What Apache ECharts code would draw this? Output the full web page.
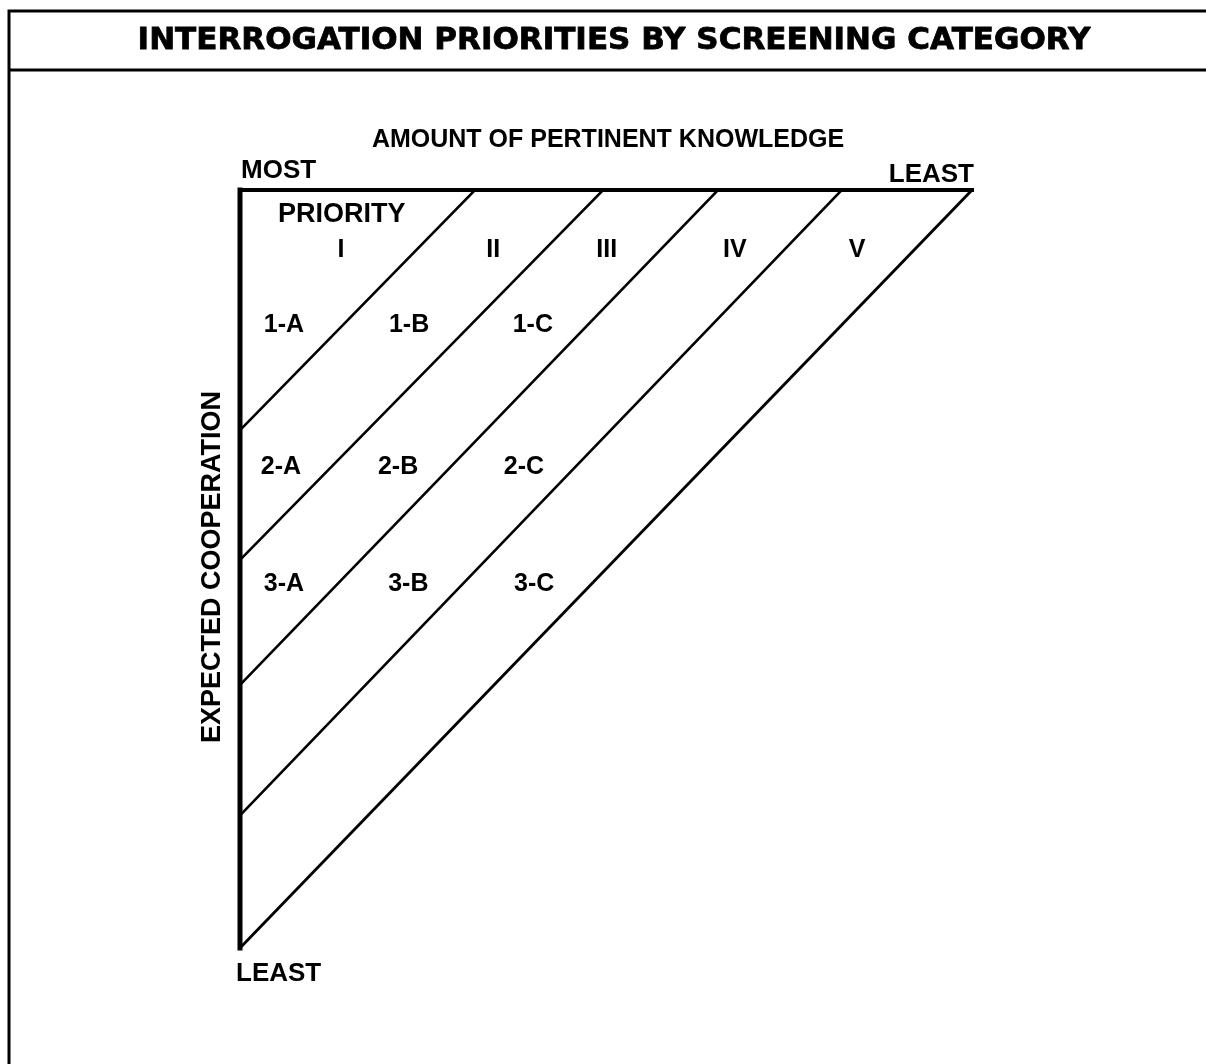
<!DOCTYPE html>
<html>
<head>
<meta charset="utf-8">
<script src="https://cdn.jsdelivr.net/npm/echarts@6/dist/echarts.min.js"></script>
<style>
html,body{margin:0;padding:0;background:#fff;}
#chart{width:1206px;height:1064px;}
</style>
</head>
<body>
<div id="chart"></div>
<script>
// ---- data ----
const titleText = 'INTERROGATION PRIORITIES BY SCREENING CATEGORY';
const xAxisTitle = 'AMOUNT OF PERTINENT KNOWLEDGE';
const yAxisTitle = 'EXPECTED COOPERATION';
const xEndLabels = ['MOST', 'LEAST'];
const yEndLabel = 'LEAST';
// diagonal band boundaries: where each boundary meets the top edge (x) and the left edge (y)
const bandTopX = [32.1, 49.6, 65.3, 82.2];
const bandLeftY = [31.7, 48.8, 65.3, 82.5];
// triangle outline
const outlineTop = [[0, 0], [100, 0]];
const outlineLeft = [[0, 0], [0, 100]];
const outlineHyp = [[100, 0], [0, 100]];
// priority labels
const priorityNames = ['I', 'II', 'III', 'IV', 'V'];
const priorityX = [13.8, 34.6, 50.1, 67.6, 84.3];
const priorityY = 7.9;
const priorityHeader = { name: 'PRIORITY', x: 13.9, y: 3.3 };
// category cells
const cellNames = ['1-A', '1-B', '1-C', '2-A', '2-B', '2-C', '3-A', '3-B', '3-C'];
const cellX = [6.0, 23.1, 40.0, 5.6, 21.6, 38.8, 6.0, 23.0, 40.2];
const cellY = [17.8, 17.8, 17.8, 36.5, 36.5, 36.5, 52.0, 52.0, 52.0];

// ---- chart ----
const chart = echarts.init(document.getElementById('chart'));
const FONT = '"Liberation Sans", Arial, sans-serif';

const series = [];
function lineSeries(data, width) {
  series.push({
    type: 'line', data: data, symbol: 'none', silent: true,
    lineStyle: { color: '#000', width: width, cap: 'square', join: 'miter' },
    animation: false, clip: false, z: 3
  });
}
lineSeries(outlineTop, 4);
lineSeries(outlineLeft, 5);
lineSeries(outlineHyp, 3);
bandTopX.forEach((tx, i) => lineSeries([[tx, 0], [0, bandLeftY[i]]], 2.6));

function textSeries(points, size) {
  series.push({
    type: 'scatter', data: points, symbolSize: 0, silent: true, animation: false,
    itemStyle: { opacity: 1, color: '#000' },
    label: {
      show: true, position: 'inside', formatter: p => p.name, opacity: 1,
      color: '#000', fontFamily: FONT, fontWeight: 'bold', fontSize: size
    }
  });
}
textSeries([{ value: [priorityHeader.x, priorityHeader.y], name: priorityHeader.name }], 27);
textSeries(priorityNames.map((n, i) => ({ value: [priorityX[i], priorityY], name: n })), 25);
textSeries(cellNames.map((n, i) => ({ value: [cellX[i], cellY[i]], name: n })), 25);

const axisText = { fontFamily: FONT, fontWeight: 'bold', fill: '#000' };

chart.setOption({
  animation: false,
  backgroundColor: '#fff',
  grid: { left: 240, top: 190, width: 732, height: 758 },
  xAxis: { type: 'value', min: 0, max: 100, show: false },
  yAxis: { type: 'value', min: 0, max: 100, inverse: true, show: false },
  graphic: [
    { type: 'polyline', shape: { points: [[9, 1100], [9, 11], [1220, 11]] }, style: { stroke: '#000', lineWidth: 3, fill: null } },
    { type: 'line', shape: { x1: 9, y1: 70, x2: 1220, y2: 70 }, style: { stroke: '#000', lineWidth: 3 } },
    { type: 'text', x: 614, y: 41, style: { text: titleText, align: 'center', verticalAlign: 'middle',
        fontFamily: '"DejaVu Sans", sans-serif', fontWeight: 'bold', fontSize: 31, fill: '#000',
        stroke: '#000', lineWidth: 0.8 } },
    { type: 'text', x: 608, y: 140, style: Object.assign({ text: xAxisTitle, align: 'center', verticalAlign: 'middle', fontSize: 25 }, axisText) },
    { type: 'text', x: 241, y: 171, style: Object.assign({ text: xEndLabels[0], align: 'left', verticalAlign: 'middle', fontSize: 26 }, axisText) },
    { type: 'text', x: 974, y: 175, style: Object.assign({ text: xEndLabels[1], align: 'right', verticalAlign: 'middle', fontSize: 26 }, axisText) },
    { type: 'text', x: 236, y: 974, style: Object.assign({ text: yEndLabel, align: 'left', verticalAlign: 'middle', fontSize: 26 }, axisText) },
    { type: 'text', x: 213, y: 567, rotation: Math.PI / 2, style: Object.assign({ text: yAxisTitle, align: 'center', verticalAlign: 'middle', fontSize: 27 }, axisText) }
  ],
  series: series
});
</script>
</body>
</html>
